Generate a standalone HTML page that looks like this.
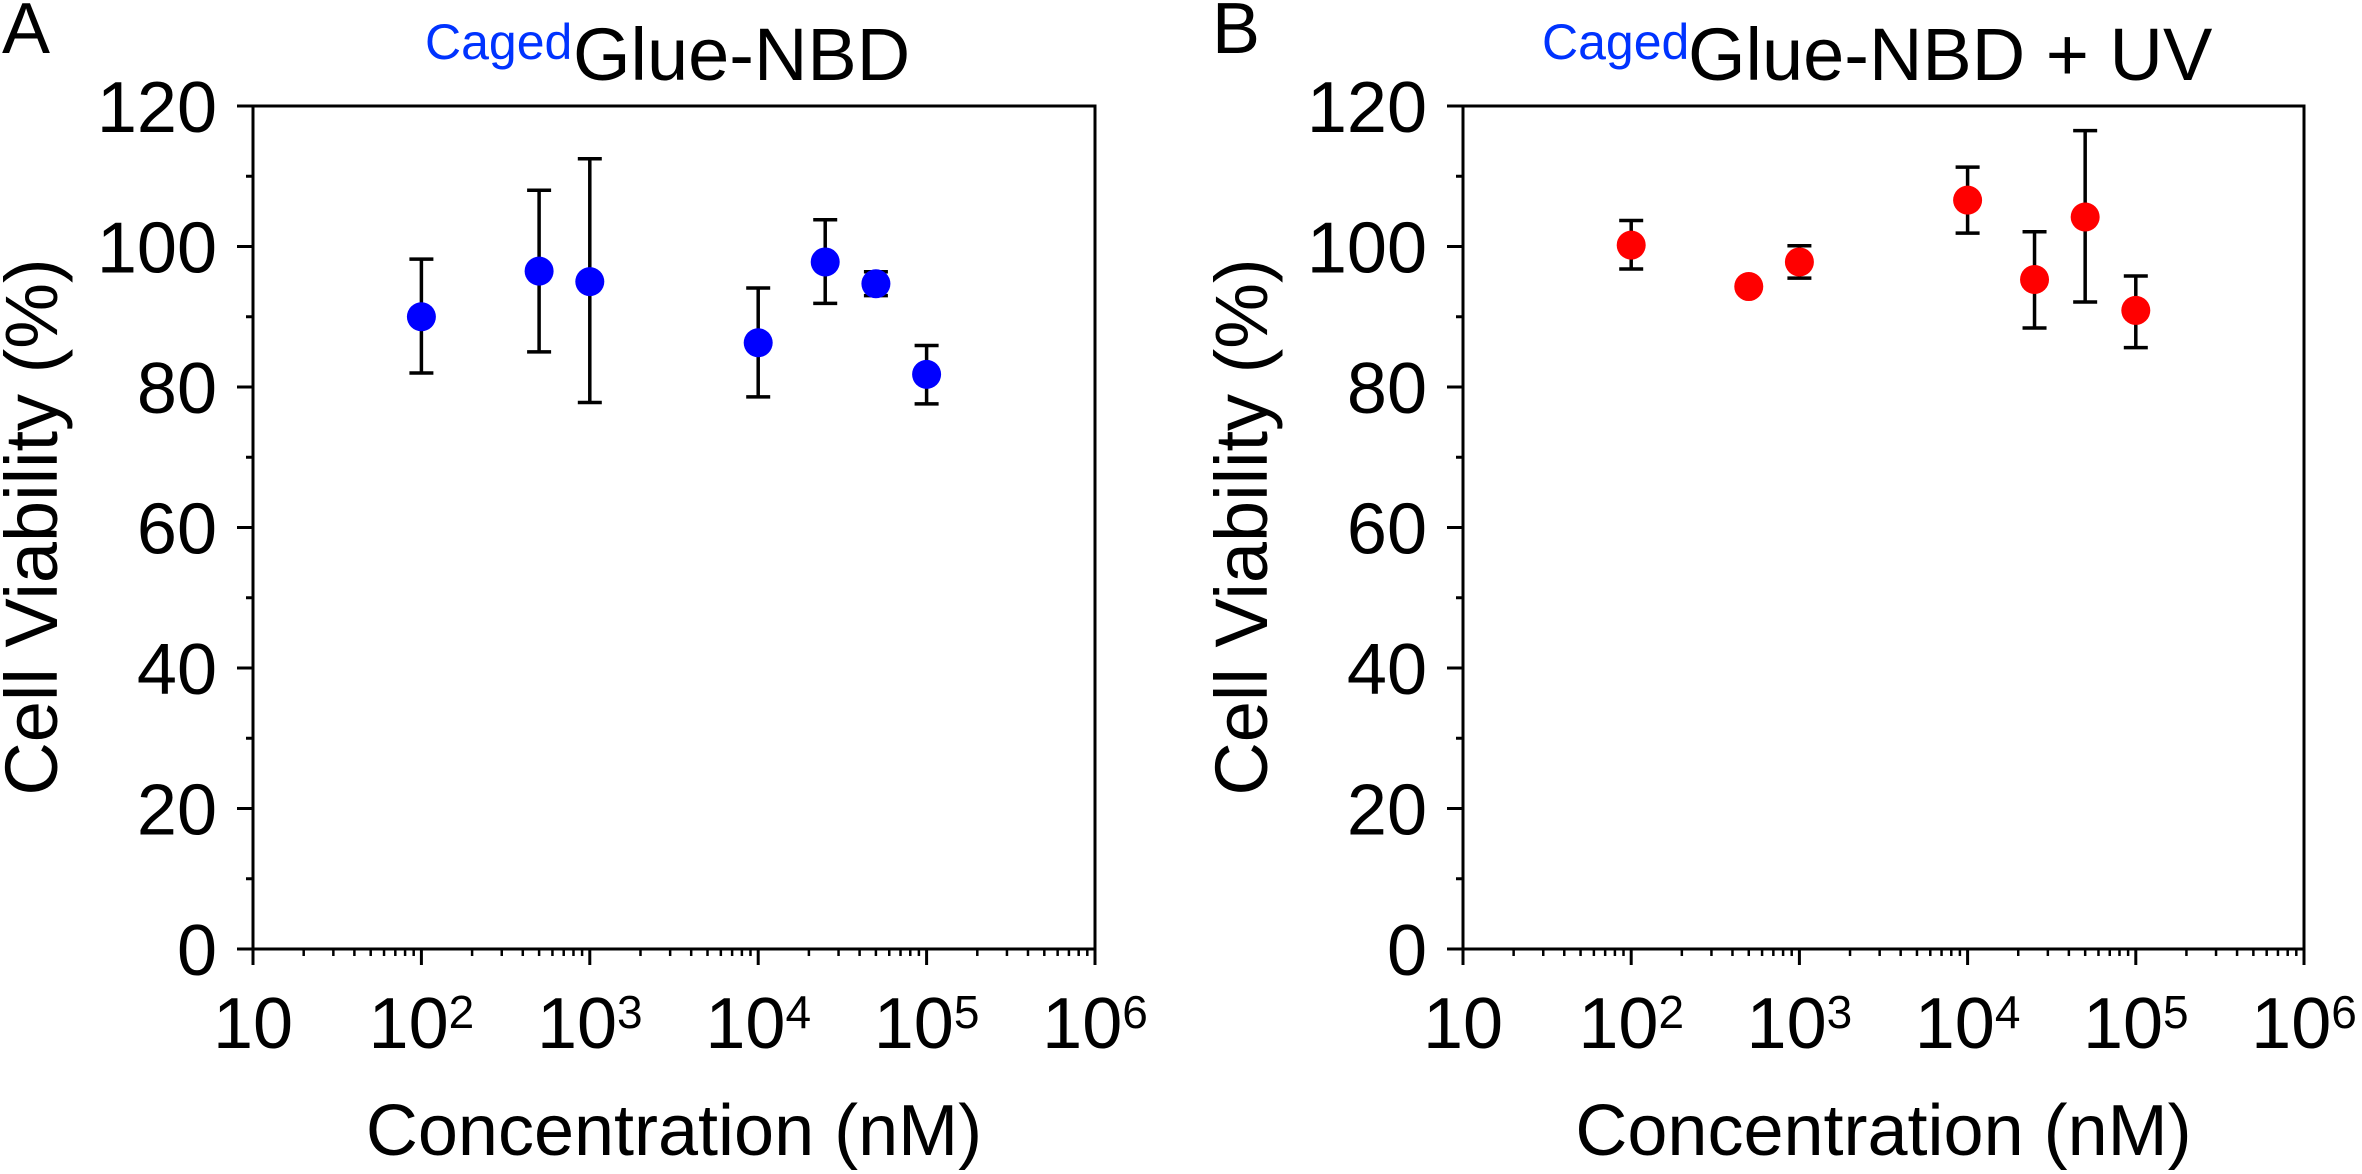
<!DOCTYPE html>
<html><head><meta charset="utf-8"><style>
html,body{margin:0;padding:0;background:#fff}
svg{display:block}
text{font-family:"Liberation Sans",Arial,sans-serif}
</style></head><body>
<svg id="chart" width="2362" height="1174" viewBox="0 0 2362 1174" xmlns="http://www.w3.org/2000/svg"></svg>
<script>
const NS="http://www.w3.org/2000/svg";
const concA=[100,500,1000,10000,25000,50000,100000];
const meanA=[90.0,96.5,95.0,86.3,97.8,94.7,81.8];
const upA=[98.2,108.0,112.5,94.1,103.8,96.4,85.9];
const loA=[82.0,85.0,77.8,78.6,91.9,93.0,77.6];
const concB=[100,500,1000,10000,25000,50000,100000];
const meanB=[100.2,94.3,97.8,106.6,95.3,104.2,90.9];
const upB=[103.7,94.3,100.1,111.3,102.1,116.5,95.8];
const loB=[96.8,94.3,95.5,101.9,88.4,92.1,85.6];
const yTicks=[0,20,40,60,80,100,120];
const xExps=[1,2,3,4,5,6];
const svg=document.getElementById('chart');
function el(tag,attrs,parent){const e=document.createElementNS(NS,tag);for(const k in attrs)e.setAttribute(k,attrs[k]);(parent||svg).appendChild(e);return e;}
function panel(id,x0,x1,conc,mean,up,lo,color,letter,letterX,cagedX,glueX,titleTail,yTitleX){
  const y0=949,y1=106;
  const g=el('g',{});
  
  
  const X=v=>x0+(Math.log10(v)-1)/5*(x1-x0);
  const Y=v=>y0-v/120*(y0-y1);
  const frame=el('rect',{x:x0,y:y1,width:x1-x0,height:y0-y1,fill:'none',stroke:'#000','stroke-width':3},g);
  
  
  for(let v=0;v<=120;v+=10){const major=v%20===0;el('line',{x1:x0-(major?16:7),x2:x0,y1:Y(v),y2:Y(v),stroke:'#000','stroke-width':3},g);}
  yTicks.forEach(v=>{const t=el('text',{x:x0-36,y:Y(v)+26,'text-anchor':'end','font-size':72},g);t.textContent=v;
    
    });
  for(let e=1;e<=6;e++){el('line',{x1:X(Math.pow(10,e)),x2:X(Math.pow(10,e)),y1:y0,y2:y0+16,stroke:'#000','stroke-width':3},g);
    if(e<6)for(let m=2;m<=9;m++){const xv=X(m*Math.pow(10,e));el('line',{x1:xv,x2:xv,y1:y0,y2:y0+7,stroke:'#000','stroke-width':2.5},g);}}
  xExps.forEach(e=>{const t=el('text',{x:X(Math.pow(10,e)),y:1048,'text-anchor':'middle','font-size':72},g);
    
    
    t.textContent='10';if(e>1){const s=el('tspan',{dy:-20,'font-size':46},t);s.textContent=e;}});
  const xt=el('text',{x:(x0+x1)/2,y:1155,'text-anchor':'middle','font-size':72},g);xt.textContent='Concentration (nM)';
  
  
  const yt=el('text',{x:0,y:0,'text-anchor':'middle','font-size':74,transform:`translate(${yTitleX},527) rotate(-90)`},g);yt.textContent='Cell Viability (%)';
  
  
  const L=el('text',{x:letterX,y:53,'font-size':72},g);L.textContent=letter;
  
  
  const c=el('text',{x:cagedX,y:59,'font-size':50,fill:'#0033ff'},g);c.textContent='Caged';
  
  
  const tt=el('text',{x:glueX,y:80,'font-size':74},g);tt.textContent=titleTail;
  
  
  conc.forEach((cc,i)=>{const cx=X(cc);
    if(up[i]!==lo[i]){
      const eb=el('g',{stroke:'#000','stroke-width':3.5},g);
      
      
      el('line',{x1:cx,x2:cx,y1:Y(up[i]),y2:Y(lo[i])},eb);
      el('line',{x1:cx-12,x2:cx+12,y1:Y(up[i]),y2:Y(up[i])},eb);
      el('line',{x1:cx-12,x2:cx+12,y1:Y(lo[i]),y2:Y(lo[i])},eb);}
    const p=el('circle',{cx:cx,cy:Y(mean[i]),r:14.5,fill:color},g);
    
    
  });
}
panel('a',253,1095,concA,meanA,upA,loA,'#0000ff','A',2,425,573,'Glue-NBD',57);
panel('b',1463,2304,concB,meanB,upB,loB,'#ff0000','B',1212,1542,1688,'Glue-NBD + UV',1267);
</script>
</body></html>
